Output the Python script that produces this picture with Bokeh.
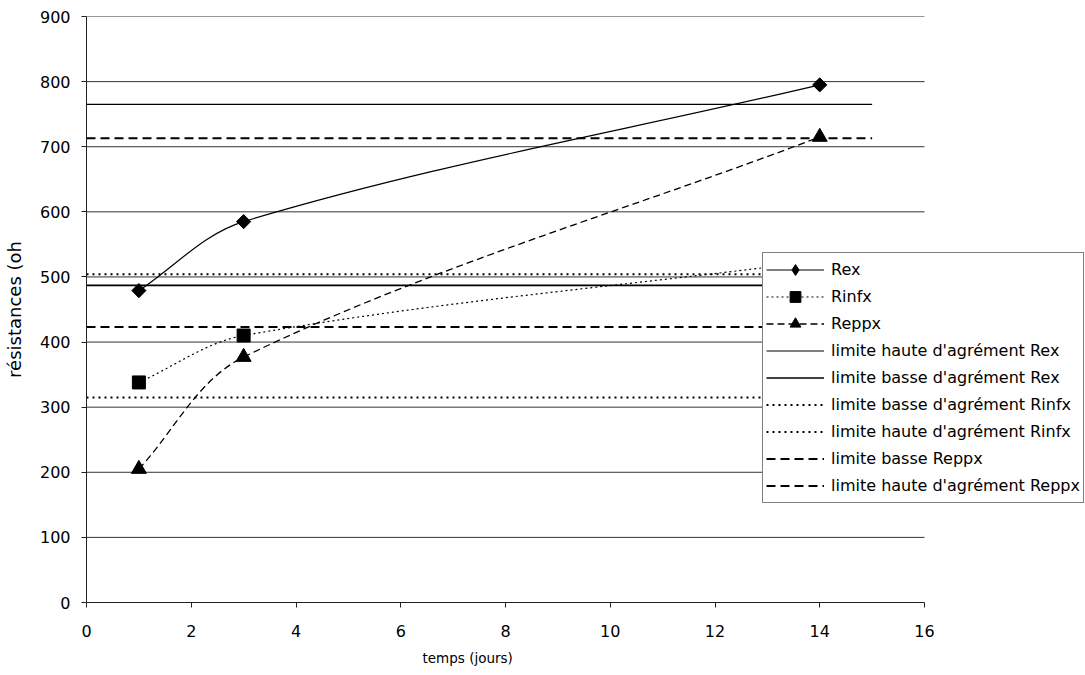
import numpy as np
from bokeh.plotting import figure
from bokeh.models import Range1d, Legend, LegendItem, FixedTicker, Title
from bokeh.embed import file_html
from bokeh.resources import INLINE

# ---- data ----
days = [1, 3, 14]
rex = [479, 585, 795]
rinfx = [338, 410, 525]
reppx = [205, 377, 715]

limit_x = [0, 15]
rex_haute = 765
rex_basse = 487
rinfx_basse = 315
rinfx_haute = 504
reppx_basse = 423
reppx_haute = 713

x_ticks = [0, 2, 4, 6, 8, 10, 12, 14, 16]
y_ticks = [0, 100, 200, 300, 400, 500, 600, 700, 800, 900]

FONT = "DejaVu Sans"

# ---- layout ----
W, H = 1085, 675
BL, BT, BB = 86, 16, 73
FW = W - BL                      # frame reaches the right edge (legend overlaps there)
FH = H - BT - BB
PX_PER_X = 838 / (x_ticks[-1] - x_ticks[0])   # axis 0..16 spans 838 px
PX_PER_Y = FH / (y_ticks[-1] - y_ticks[0])
x_end = x_ticks[0] + FW / PX_PER_X

p = figure(width=W, height=H,
           min_border_left=BL, min_border_right=0, min_border_top=BT, min_border_bottom=BB,
           x_range=Range1d(x_ticks[0], x_end), y_range=Range1d(y_ticks[0], y_ticks[-1]),
           output_backend="svg", toolbar_location=None)
p.outline_line_color = None
p.background_fill_color = "white"
p.border_fill_color = "white"

# axes
p.xaxis.ticker = FixedTicker(ticks=x_ticks)
p.yaxis.ticker = FixedTicker(ticks=y_ticks)
p.xaxis.bounds = (x_ticks[0], x_ticks[-1])
for ax in (p.xaxis[0], p.yaxis[0]):
    ax.axis_line_color = "#222222"
    ax.major_tick_line_color = "#222222"
    ax.minor_tick_line_color = None
    ax.major_tick_in = 0
    ax.major_tick_out = 5
    ax.major_label_text_font = FONT
    ax.major_label_text_font_size = "16px"
    ax.major_label_text_color = "black"
    ax.axis_label_text_font = FONT
    ax.axis_label_text_font_style = "normal"
    ax.axis_label_text_color = "black"
p.xaxis.major_label_standoff = 17
p.yaxis.axis_label = "résistances (oh"
p.yaxis.axis_label_text_font_size = "18px"
p.yaxis.major_label_standoff = 11
p.yaxis.axis_label_standoff = 12

# x axis title, placed under the 0..16 span (not centred on the wider frame)
xt = Title(text="temps (jours)", align="left", offset=336, standoff=17,
           text_font=FONT, text_font_size="13.5px", text_font_style="normal",
           text_color="black")
p.add_layout(xt, "below")

p.xgrid.grid_line_color = None
p.ygrid.grid_line_color = None

# horizontal gridlines, limited to the 0..16 axis span
grid_y = y_ticks[1:]
p.segment(x0=[x_ticks[0]] * len(grid_y), x1=[x_ticks[-1]] * len(grid_y),
          y0=grid_y, y1=grid_y, line_color="#333333", line_width=1)


def excel_smooth(xs, ys, k=1/3):
    """Control points of a smoothed Bezier path (computed in pixel space)."""
    P = np.array([[x * PX_PER_X, y * PX_PER_Y] for x, y in zip(xs, ys)], dtype=float)
    n = len(P)
    tang = []
    for i in range(n):
        a = P[i - 1] if i > 0 else P[i]
        b = P[i + 1] if i < n - 1 else P[i]
        d = b - a
        tang.append(d / np.hypot(*d))
    out = dict(x0=[], y0=[], x1=[], y1=[], cx0=[], cy0=[], cx1=[], cy1=[])
    for i in range(n - 1):
        L = np.hypot(*(P[i + 1] - P[i]))
        c0 = P[i] + tang[i] * L * k
        c1 = P[i + 1] - tang[i + 1] * L * k
        out["x0"].append(xs[i]); out["y0"].append(ys[i])
        out["x1"].append(xs[i + 1]); out["y1"].append(ys[i + 1])
        out["cx0"].append(c0[0] / PX_PER_X); out["cy0"].append(c0[1] / PX_PER_Y)
        out["cx1"].append(c1[0] / PX_PER_X); out["cy1"].append(c1[1] / PX_PER_Y)
    return out


def hline(val, dash, width):
    return p.line(limit_x, [val, val], line_color="black", line_width=width, line_dash=dash)

r_hrex = hline(rex_haute, "solid", 1.2)
r_brex = hline(rex_basse, "solid", 1.6)
r_brinf = hline(rinfx_basse, "2 4", 2)
r_hrinf = hline(rinfx_haute, "2 4", 2)
r_brepp = hline(reppx_basse, "9 5", 2)
r_hrepp = hline(reppx_haute, "9 5", 2)

# data curves
b_rex = p.bezier(line_color="black", line_width=1.2, **excel_smooth(days, rex))
s_rex = p.scatter(days, rex, marker="square", angle=np.pi / 4, size=10,
                  fill_color="black", line_color="black")
b_rinf = p.bezier(line_color="black", line_width=1.2, line_dash="2 3", **excel_smooth(days, rinfx))
s_rinf = p.scatter(days, rinfx, marker="square", size=13,
                   fill_color="black", line_color="black")
b_repp = p.bezier(line_color="black", line_width=1.3, line_dash="7 4", **excel_smooth(days, reppx))
s_repp = p.scatter(days, reppx, marker="triangle", size=15,
                   fill_color="black", line_color="black")

# hidden diamond renderer, only so that the legend shows a diamond (legend does not rotate markers)
leg_diamond = p.scatter(days, rex, marker="diamond", size=12, visible=False,
                        fill_color="black", line_color="black")

legend = Legend(items=[
    LegendItem(label="Rex", renderers=[b_rex, leg_diamond]),
    LegendItem(label="Rinfx", renderers=[b_rinf, s_rinf]),
    LegendItem(label="Reppx", renderers=[b_repp, s_repp]),
    LegendItem(label="limite haute d'agrément Rex", renderers=[r_hrex]),
    LegendItem(label="limite basse d'agrément Rex", renderers=[r_brex]),
    LegendItem(label="limite basse d'agrément Rinfx", renderers=[r_brinf]),
    LegendItem(label="limite haute d'agrément Rinfx", renderers=[r_hrinf]),
    LegendItem(label="limite basse Reppx", renderers=[r_brepp]),
    LegendItem(label="limite haute d'agrément Reppx", renderers=[r_hrepp]),
], location=(676, 99))
legend.label_text_font = FONT
legend.label_text_font_size = "16px"
legend.label_text_color = "black"
legend.glyph_width = 58
legend.glyph_height = 27
legend.label_height = 20
legend.label_standoff = 7
legend.spacing = 0
legend.padding = 3
legend.margin = 0
legend.border_line_color = "black"
legend.border_line_width = 1
legend.background_fill_color = "white"
legend.background_fill_alpha = 1
p.add_layout(legend, "center")

open("out.html", "w").write(file_html(p, INLINE))
